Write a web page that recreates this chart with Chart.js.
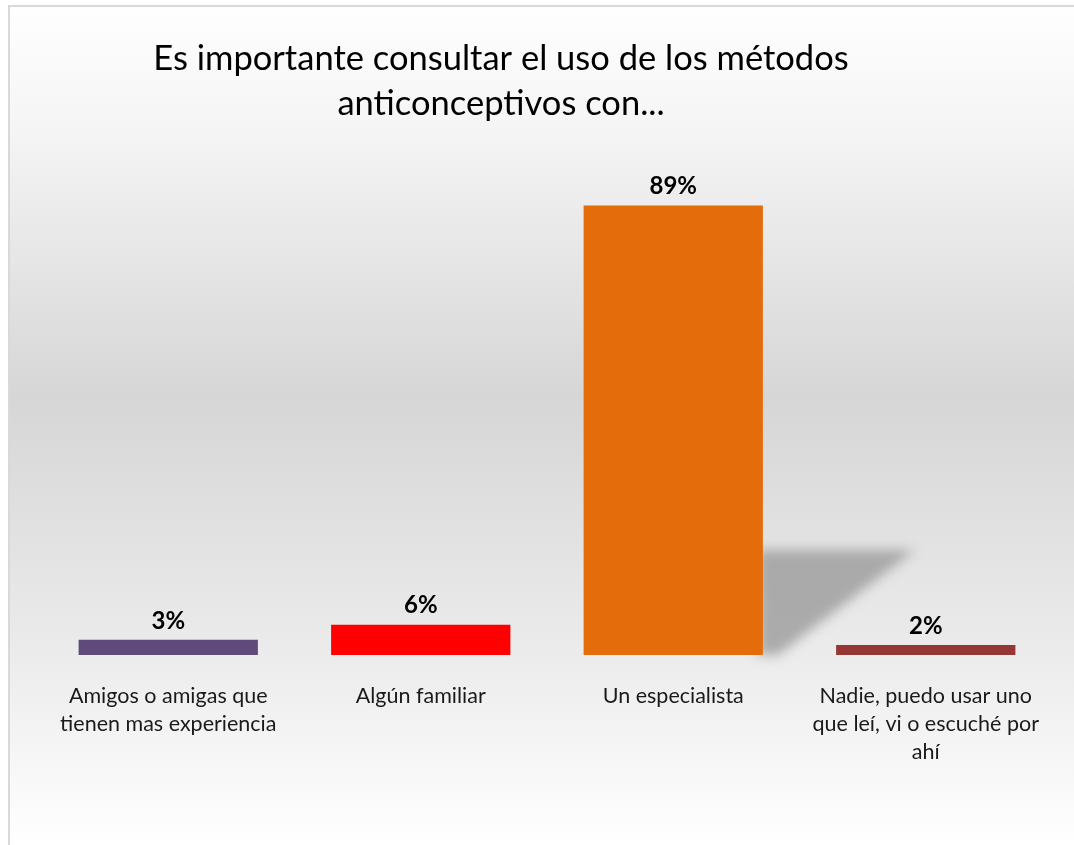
<!DOCTYPE html>
<html>
<head>
<meta charset="utf-8">
<script src="https://cdn.jsdelivr.net/npm/chart.js@4.4.1/dist/chart.umd.min.js"></script>
<style>
  html, body { margin: 0; padding: 0; background: #fff; }
  #wrap { position: relative; width: 1074px; height: 845px; }
</style>
</head>
<body>
<div id="wrap"><canvas id="chartMetodos" width="1074" height="845"></canvas></div>
<script>
const categorias = [
    ['Amigos o amigas que', 'tienen mas experiencia'],
    'Algún familiar',
    'Un especialista',
    ['Nadie, puedo usar uno', 'que leí, vi o escuché por', 'ahí']
];
const porcentajes = [3, 6, 89, 2];
const colores = ['#604a7b', '#ff0000', '#e46c0a', '#953735'];
const tituloLineas = ['Es importante consultar el uso de los métodos', 'anticonceptivos con...'];

const FONT = 'Lato, "Open Sans", sans-serif';

// fondo degradado + borde gris
const fondoPlugin = {
    id: 'fondo',
    beforeDraw: (chart) => {
        const c = chart.ctx;
        const g = c.createLinearGradient(0, 0, 0, chart.height);
        g.addColorStop(0, '#ffffff');
        g.addColorStop(0.15, '#f5f5f5');
        g.addColorStop(0.47, '#d6d6d6');
        g.addColorStop(0.78, '#ececec');
        g.addColorStop(1, '#ffffff');
        c.save();
        c.fillStyle = g;
        c.fillRect(0, 0, chart.width, chart.height);
        c.fillStyle = '#ffffff';
        c.fillRect(0, 0, chart.width, 5);
        c.fillRect(0, 0, 8, chart.height);
        c.strokeStyle = '#d9d9d9';
        c.lineWidth = 2;
        c.beginPath();
        c.moveTo(9, chart.height);
        c.lineTo(9, 6);
        c.lineTo(chart.width, 6);
        c.stroke();
        c.restore();
    }
};

// sombra detrás de la barra más alta
const sombraPlugin = {
    id: 'sombra',
    beforeDatasetsDraw: (chart) => {
        const meta = chart.getDatasetMeta(0);
        const idx = porcentajes.indexOf(Math.max(...porcentajes));
        const bar = meta.data[idx];
        const right = bar.x + bar.width / 2;
        const base = bar.base;
        const c = chart.ctx;
        c.save();
        c.filter = 'blur(6px)';
        c.fillStyle = 'rgba(150,150,150,0.75)';
        c.beginPath();
        c.moveTo(right - 5, base - 105);
        c.lineTo(right + 152, base - 105);
        c.lineTo(right + 15, base);
        c.lineTo(right - 5, base);
        c.closePath();
        c.fill();
        c.restore();
    }
};

// etiquetas de valor y título
const etiquetasPlugin = {
    id: 'etiquetas',
    afterDatasetsDraw: (chart) => {
        const c = chart.ctx;
        const meta = chart.getDatasetMeta(0);
        c.save();
        c.fillStyle = '#000';
        c.font = 'bold 24px ' + FONT;
        c.textAlign = 'center';
        c.textBaseline = 'bottom';
        meta.data.forEach((bar, i) => {
            c.fillText(porcentajes[i] + '%', bar.x, bar.y - 7);
        });
        c.font = '34.5px ' + FONT;
        c.textBaseline = 'middle';
        tituloLineas.forEach((linea, i) => {
            c.fillText(linea, 501, 59 + i * 45);
        });
        c.restore();
    }
};

const ctx = document.getElementById('chartMetodos').getContext('2d');
new Chart(ctx, {
    type: 'bar',
    data: {
        labels: categorias,
        datasets: [{
            data: porcentajes,
            backgroundColor: colores,
            borderWidth: 0,
            barPercentage: 0.71,
            categoryPercentage: 1
        }]
    },
    options: {
        responsive: false,
        animation: false,
        layout: { padding: { left: 42, right: 22, top: 150, bottom: 0 } },
        plugins: {
            legend: { display: false },
            tooltip: { enabled: false }
        },
        scales: {
            x: {
                grid: { display: false },
                border: { display: false },
                afterFit: (scale) => { scale.height = 190; },
                ticks: {
                    color: '#1a1a1a',
                    font: { family: FONT, size: 21.5, lineHeight: 1.3 },
                    padding: 19,
                    maxRotation: 0,
                    autoSkip: false
                }
            },
            y: {
                display: false,
                min: 0,
                max: 100
            }
        }
    },
    plugins: [fondoPlugin, sombraPlugin, etiquetasPlugin]
});
</script>
</body>
</html>
